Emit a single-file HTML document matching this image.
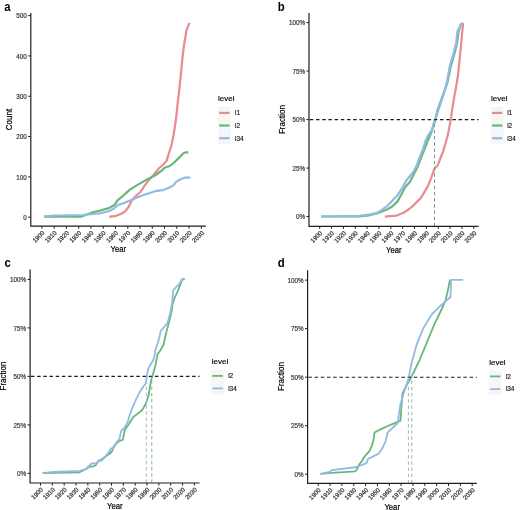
<!DOCTYPE html>
<html><head><meta charset="utf-8"><title>Figure</title>
<style>
html,body{margin:0;padding:0;background:#fff;}
body{width:520px;height:510px;overflow:hidden;}
svg{display:block;font-family:"Liberation Sans", sans-serif;filter:blur(0.3px);}
</style></head>
<body>
<svg width="520" height="510" viewBox="0 0 520 510">
<rect width="520" height="510" fill="#fff"/>
<text transform="translate(4.2 11.1) scale(0.9 1)" font-size="12.6" font-weight="bold" fill="#000">a</text>
<polyline points="109.2,216.9 116.2,215.8 121.9,213.5 125.4,211.2 128.8,206.5 132.3,199.6 136.9,195.0 140.4,192.0 143.8,186.9 147.3,181.8 153.1,175.4 158.8,168.5 163.5,164.3 166.5,161.1 168.8,153.5 171.5,145.4 173.8,133.8 175.9,120.0 177.6,104.1 179.5,87.6 181.2,71.2 182.8,54.7 184.2,44.0 185.2,38.2 186.3,31.0 187.3,28.0 189.6,22.9" fill="none" stroke="#EA8A92" stroke-width="2.20" stroke-linejoin="round" stroke-linecap="butt"/>
<polyline points="44.2,216.7 81.0,216.7 88.8,213.8 93.5,212.0 99.5,210.8 108.8,208.1 114.6,205.0 117.5,200.4 122.0,196.7 129.8,189.6 137.6,184.9 147.0,179.4 154.9,175.5 162.0,170.4 164.9,167.5 169.8,166.0 173.7,163.0 178.6,158.1 183.5,153.2 186.0,152.3 188.4,152.3" fill="none" stroke="#68B77A" stroke-width="2.20" stroke-linejoin="round" stroke-linecap="butt"/>
<polyline points="44.2,216.5 53.4,215.5 82.6,215.0 99.5,213.5 108.8,211.2 113.4,208.8 118.0,205.0 123.5,203.2 131.4,199.9 137.8,197.3 144.1,194.7 150.5,192.7 156.9,190.8 163.3,190.1 169.6,187.6 173.7,185.1 176.2,181.7 180.6,179.2 184.5,177.7 190.4,177.7" fill="none" stroke="#92BAE5" stroke-width="2.20" stroke-linejoin="round" stroke-linecap="butt"/>
<path d="M30.8 13.0 V226.2 H205.9" fill="none" stroke="#1e1e1e" stroke-width="1.2"/>
<line x1="28.2" y1="217.20" x2="30.8" y2="217.20" stroke="#1e1e1e" stroke-width="1"/>
<text x="26.8" y="219.87" font-size="6.3" fill="#3a3a3a" stroke="#3a3a3a" stroke-width="0.2" text-anchor="end">0</text>
<line x1="28.2" y1="176.88" x2="30.8" y2="176.88" stroke="#1e1e1e" stroke-width="1"/>
<text x="26.8" y="179.55" font-size="6.3" fill="#3a3a3a" stroke="#3a3a3a" stroke-width="0.2" text-anchor="end">100</text>
<line x1="28.2" y1="136.56" x2="30.8" y2="136.56" stroke="#1e1e1e" stroke-width="1"/>
<text x="26.8" y="139.23" font-size="6.3" fill="#3a3a3a" stroke="#3a3a3a" stroke-width="0.2" text-anchor="end">200</text>
<line x1="28.2" y1="96.24" x2="30.8" y2="96.24" stroke="#1e1e1e" stroke-width="1"/>
<text x="26.8" y="98.91" font-size="6.3" fill="#3a3a3a" stroke="#3a3a3a" stroke-width="0.2" text-anchor="end">300</text>
<line x1="28.2" y1="55.92" x2="30.8" y2="55.92" stroke="#1e1e1e" stroke-width="1"/>
<text x="26.8" y="58.59" font-size="6.3" fill="#3a3a3a" stroke="#3a3a3a" stroke-width="0.2" text-anchor="end">400</text>
<line x1="28.2" y1="15.60" x2="30.8" y2="15.60" stroke="#1e1e1e" stroke-width="1"/>
<text x="26.8" y="18.27" font-size="6.3" fill="#3a3a3a" stroke="#3a3a3a" stroke-width="0.2" text-anchor="end">500</text>
<line x1="41.90" y1="226.2" x2="41.90" y2="228.8" stroke="#1e1e1e" stroke-width="1"/>
<text transform="translate(41.50 229.95) rotate(-45)" font-size="6.2" fill="#3a3a3a" stroke="#3a3a3a" stroke-width="0.25" text-anchor="end" dominant-baseline="hanging">1900</text>
<line x1="54.16" y1="226.2" x2="54.16" y2="228.8" stroke="#1e1e1e" stroke-width="1"/>
<text transform="translate(53.77 229.95) rotate(-45)" font-size="6.2" fill="#3a3a3a" stroke="#3a3a3a" stroke-width="0.25" text-anchor="end" dominant-baseline="hanging">1910</text>
<line x1="66.43" y1="226.2" x2="66.43" y2="228.8" stroke="#1e1e1e" stroke-width="1"/>
<text transform="translate(66.03 229.95) rotate(-45)" font-size="6.2" fill="#3a3a3a" stroke="#3a3a3a" stroke-width="0.25" text-anchor="end" dominant-baseline="hanging">1920</text>
<line x1="78.69" y1="226.2" x2="78.69" y2="228.8" stroke="#1e1e1e" stroke-width="1"/>
<text transform="translate(78.29 229.95) rotate(-45)" font-size="6.2" fill="#3a3a3a" stroke="#3a3a3a" stroke-width="0.25" text-anchor="end" dominant-baseline="hanging">1930</text>
<line x1="90.96" y1="226.2" x2="90.96" y2="228.8" stroke="#1e1e1e" stroke-width="1"/>
<text transform="translate(90.56 229.95) rotate(-45)" font-size="6.2" fill="#3a3a3a" stroke="#3a3a3a" stroke-width="0.25" text-anchor="end" dominant-baseline="hanging">1940</text>
<line x1="103.22" y1="226.2" x2="103.22" y2="228.8" stroke="#1e1e1e" stroke-width="1"/>
<text transform="translate(102.82 229.95) rotate(-45)" font-size="6.2" fill="#3a3a3a" stroke="#3a3a3a" stroke-width="0.25" text-anchor="end" dominant-baseline="hanging">1950</text>
<line x1="115.49" y1="226.2" x2="115.49" y2="228.8" stroke="#1e1e1e" stroke-width="1"/>
<text transform="translate(115.09 229.95) rotate(-45)" font-size="6.2" fill="#3a3a3a" stroke="#3a3a3a" stroke-width="0.25" text-anchor="end" dominant-baseline="hanging">1960</text>
<line x1="127.75" y1="226.2" x2="127.75" y2="228.8" stroke="#1e1e1e" stroke-width="1"/>
<text transform="translate(127.35 229.95) rotate(-45)" font-size="6.2" fill="#3a3a3a" stroke="#3a3a3a" stroke-width="0.25" text-anchor="end" dominant-baseline="hanging">1970</text>
<line x1="140.02" y1="226.2" x2="140.02" y2="228.8" stroke="#1e1e1e" stroke-width="1"/>
<text transform="translate(139.62 229.95) rotate(-45)" font-size="6.2" fill="#3a3a3a" stroke="#3a3a3a" stroke-width="0.25" text-anchor="end" dominant-baseline="hanging">1980</text>
<line x1="152.28" y1="226.2" x2="152.28" y2="228.8" stroke="#1e1e1e" stroke-width="1"/>
<text transform="translate(151.88 229.95) rotate(-45)" font-size="6.2" fill="#3a3a3a" stroke="#3a3a3a" stroke-width="0.25" text-anchor="end" dominant-baseline="hanging">1990</text>
<line x1="164.55" y1="226.2" x2="164.55" y2="228.8" stroke="#1e1e1e" stroke-width="1"/>
<text transform="translate(164.15 229.95) rotate(-45)" font-size="6.2" fill="#3a3a3a" stroke="#3a3a3a" stroke-width="0.25" text-anchor="end" dominant-baseline="hanging">2000</text>
<line x1="176.81" y1="226.2" x2="176.81" y2="228.8" stroke="#1e1e1e" stroke-width="1"/>
<text transform="translate(176.41 229.95) rotate(-45)" font-size="6.2" fill="#3a3a3a" stroke="#3a3a3a" stroke-width="0.25" text-anchor="end" dominant-baseline="hanging">2010</text>
<line x1="189.08" y1="226.2" x2="189.08" y2="228.8" stroke="#1e1e1e" stroke-width="1"/>
<text transform="translate(188.68 229.95) rotate(-45)" font-size="6.2" fill="#3a3a3a" stroke="#3a3a3a" stroke-width="0.25" text-anchor="end" dominant-baseline="hanging">2020</text>
<line x1="201.34" y1="226.2" x2="201.34" y2="228.8" stroke="#1e1e1e" stroke-width="1"/>
<text transform="translate(200.94 229.95) rotate(-45)" font-size="6.2" fill="#3a3a3a" stroke="#3a3a3a" stroke-width="0.25" text-anchor="end" dominant-baseline="hanging">2030</text>
<text x="118.4" y="252.0" font-size="8.6" fill="#000" stroke="#000" stroke-width="0.2" text-anchor="middle" textLength="15.6" lengthAdjust="spacingAndGlyphs">Year</text>
<text transform="translate(12.3 119.5) rotate(-90)" font-size="8.6" fill="#000" stroke="#000" stroke-width="0.2" text-anchor="middle" textLength="21.3" lengthAdjust="spacingAndGlyphs">Count</text>
<text x="218.0" y="101.2" font-size="8.0" fill="#000" stroke="#000" stroke-width="0.15">level</text>
<rect x="218.0" y="107.0" width="12.8" height="37.0" fill="#f6f6f6"/>
<line x1="219.2" y1="112.9" x2="229.6" y2="112.9" stroke="#EA8A92" stroke-width="2.20"/>
<text x="235.0" y="115.2" font-size="6.4" fill="#111" stroke="#111" stroke-width="0.15">l1</text>
<line x1="219.2" y1="125.5" x2="229.6" y2="125.5" stroke="#68B77A" stroke-width="2.20"/>
<text x="235.0" y="127.8" font-size="6.4" fill="#111" stroke="#111" stroke-width="0.15">l2</text>
<line x1="219.2" y1="138.2" x2="229.6" y2="138.2" stroke="#92BAE5" stroke-width="2.20"/>
<text x="235.0" y="140.5" font-size="6.4" fill="#111" stroke="#111" stroke-width="0.15">l34</text>
<text transform="translate(277.8 11.1) scale(0.9 1)" font-size="12.6" font-weight="bold" fill="#000">b</text>
<polyline points="384.8,216.6 396.1,215.7 404.0,212.6 409.0,209.0 413.0,205.8 420.9,197.9 427.6,186.6 431.0,178.5 434.4,168.6 437.8,165.2 440.5,158.0 443.4,150.6 447.9,134.8 450.9,118.9 452.6,107.0 454.4,96.0 455.9,88.0 458.0,75.3 459.8,57.6 461.5,40.0 462.5,29.0 463.2,23.2" fill="none" stroke="#EA8A92" stroke-width="2.20" stroke-linejoin="round" stroke-linecap="butt"/>
<polyline points="321.2,216.5 359.6,216.5 368.8,215.4 376.5,213.4 382.7,211.2 387.6,209.2 392.5,206.3 397.5,201.4 401.4,194.5 404.3,188.6 407.3,184.7 410.0,181.8 413.7,174.6 418.1,165.7 421.5,156.5 424.2,150.0 427.9,140.2 431.2,132.7 433.3,126.2 435.5,118.7 437.6,110.1 439.8,103.6 443.0,95.0 447.2,83.3 450.8,66.1 454.0,55.3 457.2,42.4 458.5,31.6 460.8,24.5 463.2,23.2" fill="none" stroke="#68B77A" stroke-width="2.20" stroke-linejoin="round" stroke-linecap="butt"/>
<polyline points="321.2,216.5 359.6,215.8 368.8,214.6 376.5,213.1 382.7,209.4 387.6,205.5 392.5,200.6 397.5,195.3 400.6,190.4 404.3,184.5 405.9,181.0 409.8,176.3 413.7,171.4 416.7,165.5 419.1,158.6 422.5,150.5 425.8,140.2 429.0,133.8 432.2,129.5 433.8,123.0 435.5,118.7 437.6,112.2 439.8,105.8 441.9,99.3 443.5,95.0 446.6,83.3 449.8,66.1 453.0,55.3 456.3,42.4 457.4,31.6 460.6,25.1 463.2,23.2" fill="none" stroke="#92BAE5" stroke-width="2.20" stroke-linejoin="round" stroke-linecap="butt"/>
<line x1="309.0" y1="119.60" x2="478.6" y2="119.60" stroke="#1a1a1a" stroke-width="1.15" stroke-dasharray="3.5 2.7" stroke-dashoffset="-0.8"/>
<line x1="434.5" y1="226.35" x2="434.5" y2="119.60" stroke="#6a9c8a" stroke-width="1.0" stroke-dasharray="3.5 2.7"/>
<path d="M309.0 13.0 V226.3 H478.6" fill="none" stroke="#1e1e1e" stroke-width="1.2"/>
<line x1="306.4" y1="216.60" x2="309.0" y2="216.60" stroke="#1e1e1e" stroke-width="1"/>
<text x="305.0" y="219.27" font-size="6.3" fill="#3a3a3a" stroke="#3a3a3a" stroke-width="0.2" text-anchor="end">0%</text>
<line x1="306.4" y1="168.09" x2="309.0" y2="168.09" stroke="#1e1e1e" stroke-width="1"/>
<text x="305.0" y="170.76" font-size="6.3" fill="#3a3a3a" stroke="#3a3a3a" stroke-width="0.2" text-anchor="end">25%</text>
<line x1="306.4" y1="119.58" x2="309.0" y2="119.58" stroke="#1e1e1e" stroke-width="1"/>
<text x="305.0" y="122.24" font-size="6.3" fill="#3a3a3a" stroke="#3a3a3a" stroke-width="0.2" text-anchor="end">50%</text>
<line x1="306.4" y1="71.06" x2="309.0" y2="71.06" stroke="#1e1e1e" stroke-width="1"/>
<text x="305.0" y="73.73" font-size="6.3" fill="#3a3a3a" stroke="#3a3a3a" stroke-width="0.2" text-anchor="end">75%</text>
<line x1="306.4" y1="22.55" x2="309.0" y2="22.55" stroke="#1e1e1e" stroke-width="1"/>
<text x="305.0" y="25.22" font-size="6.3" fill="#3a3a3a" stroke="#3a3a3a" stroke-width="0.2" text-anchor="end">100%</text>
<line x1="319.70" y1="226.3" x2="319.70" y2="228.9" stroke="#1e1e1e" stroke-width="1"/>
<text transform="translate(319.30 230.05) rotate(-45)" font-size="6.2" fill="#3a3a3a" stroke="#3a3a3a" stroke-width="0.25" text-anchor="end" dominant-baseline="hanging">1900</text>
<line x1="331.56" y1="226.3" x2="331.56" y2="228.9" stroke="#1e1e1e" stroke-width="1"/>
<text transform="translate(331.16 230.05) rotate(-45)" font-size="6.2" fill="#3a3a3a" stroke="#3a3a3a" stroke-width="0.25" text-anchor="end" dominant-baseline="hanging">1910</text>
<line x1="343.41" y1="226.3" x2="343.41" y2="228.9" stroke="#1e1e1e" stroke-width="1"/>
<text transform="translate(343.01 230.05) rotate(-45)" font-size="6.2" fill="#3a3a3a" stroke="#3a3a3a" stroke-width="0.25" text-anchor="end" dominant-baseline="hanging">1920</text>
<line x1="355.26" y1="226.3" x2="355.26" y2="228.9" stroke="#1e1e1e" stroke-width="1"/>
<text transform="translate(354.87 230.05) rotate(-45)" font-size="6.2" fill="#3a3a3a" stroke="#3a3a3a" stroke-width="0.25" text-anchor="end" dominant-baseline="hanging">1930</text>
<line x1="367.12" y1="226.3" x2="367.12" y2="228.9" stroke="#1e1e1e" stroke-width="1"/>
<text transform="translate(366.72 230.05) rotate(-45)" font-size="6.2" fill="#3a3a3a" stroke="#3a3a3a" stroke-width="0.25" text-anchor="end" dominant-baseline="hanging">1940</text>
<line x1="378.98" y1="226.3" x2="378.98" y2="228.9" stroke="#1e1e1e" stroke-width="1"/>
<text transform="translate(378.58 230.05) rotate(-45)" font-size="6.2" fill="#3a3a3a" stroke="#3a3a3a" stroke-width="0.25" text-anchor="end" dominant-baseline="hanging">1950</text>
<line x1="390.83" y1="226.3" x2="390.83" y2="228.9" stroke="#1e1e1e" stroke-width="1"/>
<text transform="translate(390.43 230.05) rotate(-45)" font-size="6.2" fill="#3a3a3a" stroke="#3a3a3a" stroke-width="0.25" text-anchor="end" dominant-baseline="hanging">1960</text>
<line x1="402.69" y1="226.3" x2="402.69" y2="228.9" stroke="#1e1e1e" stroke-width="1"/>
<text transform="translate(402.29 230.05) rotate(-45)" font-size="6.2" fill="#3a3a3a" stroke="#3a3a3a" stroke-width="0.25" text-anchor="end" dominant-baseline="hanging">1970</text>
<line x1="414.54" y1="226.3" x2="414.54" y2="228.9" stroke="#1e1e1e" stroke-width="1"/>
<text transform="translate(414.14 230.05) rotate(-45)" font-size="6.2" fill="#3a3a3a" stroke="#3a3a3a" stroke-width="0.25" text-anchor="end" dominant-baseline="hanging">1980</text>
<line x1="426.39" y1="226.3" x2="426.39" y2="228.9" stroke="#1e1e1e" stroke-width="1"/>
<text transform="translate(426.00 230.05) rotate(-45)" font-size="6.2" fill="#3a3a3a" stroke="#3a3a3a" stroke-width="0.25" text-anchor="end" dominant-baseline="hanging">1990</text>
<line x1="438.25" y1="226.3" x2="438.25" y2="228.9" stroke="#1e1e1e" stroke-width="1"/>
<text transform="translate(437.85 230.05) rotate(-45)" font-size="6.2" fill="#3a3a3a" stroke="#3a3a3a" stroke-width="0.25" text-anchor="end" dominant-baseline="hanging">2000</text>
<line x1="450.11" y1="226.3" x2="450.11" y2="228.9" stroke="#1e1e1e" stroke-width="1"/>
<text transform="translate(449.71 230.05) rotate(-45)" font-size="6.2" fill="#3a3a3a" stroke="#3a3a3a" stroke-width="0.25" text-anchor="end" dominant-baseline="hanging">2010</text>
<line x1="461.96" y1="226.3" x2="461.96" y2="228.9" stroke="#1e1e1e" stroke-width="1"/>
<text transform="translate(461.56 230.05) rotate(-45)" font-size="6.2" fill="#3a3a3a" stroke="#3a3a3a" stroke-width="0.25" text-anchor="end" dominant-baseline="hanging">2020</text>
<line x1="473.81" y1="226.3" x2="473.81" y2="228.9" stroke="#1e1e1e" stroke-width="1"/>
<text transform="translate(473.42 230.05) rotate(-45)" font-size="6.2" fill="#3a3a3a" stroke="#3a3a3a" stroke-width="0.25" text-anchor="end" dominant-baseline="hanging">2030</text>
<text x="393.8" y="252.5" font-size="8.6" fill="#000" stroke="#000" stroke-width="0.2" text-anchor="middle" textLength="15.6" lengthAdjust="spacingAndGlyphs">Year</text>
<text transform="translate(285.1 119.6) rotate(-90)" font-size="8.6" fill="#000" stroke="#000" stroke-width="0.2" text-anchor="middle" textLength="28.9" lengthAdjust="spacingAndGlyphs">Fraction</text>
<text x="491.0" y="101.2" font-size="8.0" fill="#000" stroke="#000" stroke-width="0.15">level</text>
<rect x="490.8" y="107.0" width="12.8" height="37.0" fill="#f6f6f6"/>
<line x1="492.0" y1="112.9" x2="502.4" y2="112.9" stroke="#EA8A92" stroke-width="2.20"/>
<text x="507.2" y="115.2" font-size="6.4" fill="#111" stroke="#111" stroke-width="0.15">l1</text>
<line x1="492.0" y1="125.5" x2="502.4" y2="125.5" stroke="#68B77A" stroke-width="2.20"/>
<text x="507.2" y="127.8" font-size="6.4" fill="#111" stroke="#111" stroke-width="0.15">l2</text>
<line x1="492.0" y1="138.2" x2="502.4" y2="138.2" stroke="#92BAE5" stroke-width="2.20"/>
<text x="507.2" y="140.5" font-size="6.4" fill="#111" stroke="#111" stroke-width="0.15">l34</text>
<text transform="translate(4.5 266.6) scale(0.9 1)" font-size="12.6" font-weight="bold" fill="#000">c</text>
<polyline points="42.7,473.1 79.6,472.3 85.8,469.2 89.0,466.9 93.1,466.3 96.1,464.9 98.5,461.0 101.2,459.6 105.2,456.8 109.9,453.5 111.9,451.5 113.9,446.1 116.6,443.4 118.5,441.5 122.9,439.7 124.7,430.0 129.1,423.8 133.5,416.8 137.1,414.1 142.4,409.7 145.9,403.5 148.5,395.6 150.3,385.0 151.2,379.7 152.9,374.4 155.3,365.9 156.5,360.0 157.6,354.1 160.6,350.0 163.5,344.7 165.3,336.5 167.1,329.4 169.1,321.8 171.5,312.4 172.6,304.1 174.4,298.2 176.8,293.5 179.1,287.6 181.5,281.2 182.6,278.8 185.0,279.2" fill="none" stroke="#68B77A" stroke-width="1.80" stroke-linejoin="round" stroke-linecap="butt"/>
<polyline points="42.7,473.1 53.5,472.0 79.6,470.8 85.8,469.0 89.0,466.0 91.1,463.9 93.7,463.1 96.1,463.9 98.5,460.3 101.8,460.5 105.2,456.8 109.2,451.5 110.6,448.8 113.9,447.4 115.3,444.1 119.4,439.0 121.2,430.9 124.7,427.3 127.4,422.9 130.0,414.1 132.6,407.1 136.2,399.1 139.7,392.1 143.2,386.8 145.9,383.2 146.8,376.2 147.6,371.8 148.8,367.6 151.2,363.5 153.5,359.4 154.7,355.3 155.3,350.0 157.6,343.5 159.4,337.6 160.6,331.2 164.1,327.1 167.6,322.9 170.3,312.4 172.1,302.9 173.2,290.6 175.6,287.6 179.1,284.1 181.5,280.0 185.0,279.2" fill="none" stroke="#92BAE5" stroke-width="1.80" stroke-linejoin="round" stroke-linecap="butt"/>
<line x1="30.1" y1="376.40" x2="199.5" y2="376.40" stroke="#1a1a1a" stroke-width="1.15" stroke-dasharray="3.5 2.7" stroke-dashoffset="-0.8"/>
<line x1="146.3" y1="483.00" x2="146.3" y2="376.40" stroke="#a4b9d0" stroke-width="1.0" stroke-dasharray="3.5 2.7"/>
<line x1="151.8" y1="483.00" x2="151.8" y2="376.40" stroke="#8cb393" stroke-width="1.0" stroke-dasharray="3.5 2.7"/>
<path d="M30.1 269.5 V483.0 H199.5" fill="none" stroke="#1e1e1e" stroke-width="1.2"/>
<line x1="27.5" y1="473.40" x2="30.1" y2="473.40" stroke="#1e1e1e" stroke-width="1"/>
<text x="26.1" y="476.07" font-size="6.3" fill="#3a3a3a" stroke="#3a3a3a" stroke-width="0.2" text-anchor="end">0%</text>
<line x1="27.5" y1="424.90" x2="30.1" y2="424.90" stroke="#1e1e1e" stroke-width="1"/>
<text x="26.1" y="427.57" font-size="6.3" fill="#3a3a3a" stroke="#3a3a3a" stroke-width="0.2" text-anchor="end">25%</text>
<line x1="27.5" y1="376.40" x2="30.1" y2="376.40" stroke="#1e1e1e" stroke-width="1"/>
<text x="26.1" y="379.07" font-size="6.3" fill="#3a3a3a" stroke="#3a3a3a" stroke-width="0.2" text-anchor="end">50%</text>
<line x1="27.5" y1="327.90" x2="30.1" y2="327.90" stroke="#1e1e1e" stroke-width="1"/>
<text x="26.1" y="330.57" font-size="6.3" fill="#3a3a3a" stroke="#3a3a3a" stroke-width="0.2" text-anchor="end">75%</text>
<line x1="27.5" y1="279.40" x2="30.1" y2="279.40" stroke="#1e1e1e" stroke-width="1"/>
<text x="26.1" y="282.07" font-size="6.3" fill="#3a3a3a" stroke="#3a3a3a" stroke-width="0.2" text-anchor="end">100%</text>
<line x1="40.50" y1="483.0" x2="40.50" y2="485.6" stroke="#1e1e1e" stroke-width="1"/>
<text transform="translate(40.10 486.70) rotate(-45)" font-size="6.2" fill="#3a3a3a" stroke="#3a3a3a" stroke-width="0.25" text-anchor="end" dominant-baseline="hanging">1900</text>
<line x1="52.34" y1="483.0" x2="52.34" y2="485.6" stroke="#1e1e1e" stroke-width="1"/>
<text transform="translate(51.94 486.70) rotate(-45)" font-size="6.2" fill="#3a3a3a" stroke="#3a3a3a" stroke-width="0.25" text-anchor="end" dominant-baseline="hanging">1910</text>
<line x1="64.18" y1="483.0" x2="64.18" y2="485.6" stroke="#1e1e1e" stroke-width="1"/>
<text transform="translate(63.78 486.70) rotate(-45)" font-size="6.2" fill="#3a3a3a" stroke="#3a3a3a" stroke-width="0.25" text-anchor="end" dominant-baseline="hanging">1920</text>
<line x1="76.01" y1="483.0" x2="76.01" y2="485.6" stroke="#1e1e1e" stroke-width="1"/>
<text transform="translate(75.61 486.70) rotate(-45)" font-size="6.2" fill="#3a3a3a" stroke="#3a3a3a" stroke-width="0.25" text-anchor="end" dominant-baseline="hanging">1930</text>
<line x1="87.85" y1="483.0" x2="87.85" y2="485.6" stroke="#1e1e1e" stroke-width="1"/>
<text transform="translate(87.45 486.70) rotate(-45)" font-size="6.2" fill="#3a3a3a" stroke="#3a3a3a" stroke-width="0.25" text-anchor="end" dominant-baseline="hanging">1940</text>
<line x1="99.69" y1="483.0" x2="99.69" y2="485.6" stroke="#1e1e1e" stroke-width="1"/>
<text transform="translate(99.29 486.70) rotate(-45)" font-size="6.2" fill="#3a3a3a" stroke="#3a3a3a" stroke-width="0.25" text-anchor="end" dominant-baseline="hanging">1950</text>
<line x1="111.53" y1="483.0" x2="111.53" y2="485.6" stroke="#1e1e1e" stroke-width="1"/>
<text transform="translate(111.13 486.70) rotate(-45)" font-size="6.2" fill="#3a3a3a" stroke="#3a3a3a" stroke-width="0.25" text-anchor="end" dominant-baseline="hanging">1960</text>
<line x1="123.37" y1="483.0" x2="123.37" y2="485.6" stroke="#1e1e1e" stroke-width="1"/>
<text transform="translate(122.97 486.70) rotate(-45)" font-size="6.2" fill="#3a3a3a" stroke="#3a3a3a" stroke-width="0.25" text-anchor="end" dominant-baseline="hanging">1970</text>
<line x1="135.20" y1="483.0" x2="135.20" y2="485.6" stroke="#1e1e1e" stroke-width="1"/>
<text transform="translate(134.80 486.70) rotate(-45)" font-size="6.2" fill="#3a3a3a" stroke="#3a3a3a" stroke-width="0.25" text-anchor="end" dominant-baseline="hanging">1980</text>
<line x1="147.04" y1="483.0" x2="147.04" y2="485.6" stroke="#1e1e1e" stroke-width="1"/>
<text transform="translate(146.64 486.70) rotate(-45)" font-size="6.2" fill="#3a3a3a" stroke="#3a3a3a" stroke-width="0.25" text-anchor="end" dominant-baseline="hanging">1990</text>
<line x1="158.88" y1="483.0" x2="158.88" y2="485.6" stroke="#1e1e1e" stroke-width="1"/>
<text transform="translate(158.48 486.70) rotate(-45)" font-size="6.2" fill="#3a3a3a" stroke="#3a3a3a" stroke-width="0.25" text-anchor="end" dominant-baseline="hanging">2000</text>
<line x1="170.72" y1="483.0" x2="170.72" y2="485.6" stroke="#1e1e1e" stroke-width="1"/>
<text transform="translate(170.32 486.70) rotate(-45)" font-size="6.2" fill="#3a3a3a" stroke="#3a3a3a" stroke-width="0.25" text-anchor="end" dominant-baseline="hanging">2010</text>
<line x1="182.56" y1="483.0" x2="182.56" y2="485.6" stroke="#1e1e1e" stroke-width="1"/>
<text transform="translate(182.16 486.70) rotate(-45)" font-size="6.2" fill="#3a3a3a" stroke="#3a3a3a" stroke-width="0.25" text-anchor="end" dominant-baseline="hanging">2020</text>
<line x1="194.39" y1="483.0" x2="194.39" y2="485.6" stroke="#1e1e1e" stroke-width="1"/>
<text transform="translate(193.99 486.70) rotate(-45)" font-size="6.2" fill="#3a3a3a" stroke="#3a3a3a" stroke-width="0.25" text-anchor="end" dominant-baseline="hanging">2030</text>
<text x="114.8" y="509.0" font-size="8.6" fill="#000" stroke="#000" stroke-width="0.2" text-anchor="middle" textLength="15.6" lengthAdjust="spacingAndGlyphs">Year</text>
<text transform="translate(6.0 376.0) rotate(-90)" font-size="8.6" fill="#000" stroke="#000" stroke-width="0.2" text-anchor="middle" textLength="28.9" lengthAdjust="spacingAndGlyphs">Fraction</text>
<text x="211.8" y="364.0" font-size="8.0" fill="#000" stroke="#000" stroke-width="0.15">level</text>
<rect x="211.2" y="369.8" width="12.8" height="24.8" fill="#f6f6f6"/>
<line x1="212.4" y1="375.9" x2="222.8" y2="375.9" stroke="#68B77A" stroke-width="1.80"/>
<text x="228.2" y="378.2" font-size="6.4" fill="#111" stroke="#111" stroke-width="0.15">l2</text>
<line x1="212.4" y1="388.4" x2="222.8" y2="388.4" stroke="#92BAE5" stroke-width="1.80"/>
<text x="228.2" y="390.7" font-size="6.4" fill="#111" stroke="#111" stroke-width="0.15">l34</text>
<text transform="translate(277.7 266.8) scale(0.9 1)" font-size="12.6" font-weight="bold" fill="#000">d</text>
<polyline points="320.2,473.8 331.2,472.8 355.3,471.3 357.2,469.0 359.1,464.6 362.0,460.8 364.7,456.5 369.4,451.2 371.8,445.9 373.5,440.0 374.5,432.5 380.0,429.6 389.4,425.3 397.0,422.2 400.4,420.9 402.5,393.4 405.9,386.5 410.7,378.2 419.4,360.5 434.5,323.8 436.8,319.5 445.6,300.4 448.0,289.6 450.0,279.8" fill="none" stroke="#68B77A" stroke-width="1.80" stroke-linejoin="round" stroke-linecap="butt"/>
<polyline points="320.2,473.8 329.8,471.8 331.7,470.1 357.2,467.0 362.0,464.8 366.5,463.2 368.2,458.8 371.8,457.1 378.8,453.5 382.4,448.2 385.9,440.6 387.6,432.5 397.7,423.0 399.1,412.6 400.4,404.4 403.2,394.7 405.9,386.5 408.7,378.2 410.1,370.0 412.1,361.3 416.8,344.3 423.0,328.8 428.0,320.6 432.5,313.6 439.7,306.3 444.6,302.4 450.5,297.0 451.0,279.8 463.2,279.8" fill="none" stroke="#92BAE5" stroke-width="1.80" stroke-linejoin="round" stroke-linecap="butt"/>
<line x1="307.6" y1="377.20" x2="476.8" y2="377.20" stroke="#1a1a1a" stroke-width="1.15" stroke-dasharray="3.5 2.7" stroke-dashoffset="-0.8"/>
<line x1="408.4" y1="483.35" x2="408.4" y2="377.20" stroke="#a2b5cc" stroke-width="1.0" stroke-dasharray="3.5 2.7"/>
<line x1="411.8" y1="483.35" x2="411.8" y2="377.20" stroke="#8eb89b" stroke-width="1.0" stroke-dasharray="3.5 2.7"/>
<path d="M307.6 270.2 V483.4 H476.8" fill="none" stroke="#1e1e1e" stroke-width="1.2"/>
<line x1="305.0" y1="474.20" x2="307.6" y2="474.20" stroke="#1e1e1e" stroke-width="1"/>
<text x="303.6" y="476.87" font-size="6.3" fill="#3a3a3a" stroke="#3a3a3a" stroke-width="0.2" text-anchor="end">0%</text>
<line x1="305.0" y1="425.68" x2="307.6" y2="425.68" stroke="#1e1e1e" stroke-width="1"/>
<text x="303.6" y="428.34" font-size="6.3" fill="#3a3a3a" stroke="#3a3a3a" stroke-width="0.2" text-anchor="end">25%</text>
<line x1="305.0" y1="377.15" x2="307.6" y2="377.15" stroke="#1e1e1e" stroke-width="1"/>
<text x="303.6" y="379.82" font-size="6.3" fill="#3a3a3a" stroke="#3a3a3a" stroke-width="0.2" text-anchor="end">50%</text>
<line x1="305.0" y1="328.62" x2="307.6" y2="328.62" stroke="#1e1e1e" stroke-width="1"/>
<text x="303.6" y="331.29" font-size="6.3" fill="#3a3a3a" stroke="#3a3a3a" stroke-width="0.2" text-anchor="end">75%</text>
<line x1="305.0" y1="280.10" x2="307.6" y2="280.10" stroke="#1e1e1e" stroke-width="1"/>
<text x="303.6" y="282.77" font-size="6.3" fill="#3a3a3a" stroke="#3a3a3a" stroke-width="0.2" text-anchor="end">100%</text>
<line x1="318.20" y1="483.4" x2="318.20" y2="486.0" stroke="#1e1e1e" stroke-width="1"/>
<text transform="translate(317.80 487.05) rotate(-45)" font-size="6.2" fill="#3a3a3a" stroke="#3a3a3a" stroke-width="0.25" text-anchor="end" dominant-baseline="hanging">1900</text>
<line x1="330.05" y1="483.4" x2="330.05" y2="486.0" stroke="#1e1e1e" stroke-width="1"/>
<text transform="translate(329.65 487.05) rotate(-45)" font-size="6.2" fill="#3a3a3a" stroke="#3a3a3a" stroke-width="0.25" text-anchor="end" dominant-baseline="hanging">1910</text>
<line x1="341.89" y1="483.4" x2="341.89" y2="486.0" stroke="#1e1e1e" stroke-width="1"/>
<text transform="translate(341.49 487.05) rotate(-45)" font-size="6.2" fill="#3a3a3a" stroke="#3a3a3a" stroke-width="0.25" text-anchor="end" dominant-baseline="hanging">1920</text>
<line x1="353.74" y1="483.4" x2="353.74" y2="486.0" stroke="#1e1e1e" stroke-width="1"/>
<text transform="translate(353.34 487.05) rotate(-45)" font-size="6.2" fill="#3a3a3a" stroke="#3a3a3a" stroke-width="0.25" text-anchor="end" dominant-baseline="hanging">1930</text>
<line x1="365.58" y1="483.4" x2="365.58" y2="486.0" stroke="#1e1e1e" stroke-width="1"/>
<text transform="translate(365.18 487.05) rotate(-45)" font-size="6.2" fill="#3a3a3a" stroke="#3a3a3a" stroke-width="0.25" text-anchor="end" dominant-baseline="hanging">1940</text>
<line x1="377.43" y1="483.4" x2="377.43" y2="486.0" stroke="#1e1e1e" stroke-width="1"/>
<text transform="translate(377.03 487.05) rotate(-45)" font-size="6.2" fill="#3a3a3a" stroke="#3a3a3a" stroke-width="0.25" text-anchor="end" dominant-baseline="hanging">1950</text>
<line x1="389.28" y1="483.4" x2="389.28" y2="486.0" stroke="#1e1e1e" stroke-width="1"/>
<text transform="translate(388.88 487.05) rotate(-45)" font-size="6.2" fill="#3a3a3a" stroke="#3a3a3a" stroke-width="0.25" text-anchor="end" dominant-baseline="hanging">1960</text>
<line x1="401.12" y1="483.4" x2="401.12" y2="486.0" stroke="#1e1e1e" stroke-width="1"/>
<text transform="translate(400.72 487.05) rotate(-45)" font-size="6.2" fill="#3a3a3a" stroke="#3a3a3a" stroke-width="0.25" text-anchor="end" dominant-baseline="hanging">1970</text>
<line x1="412.97" y1="483.4" x2="412.97" y2="486.0" stroke="#1e1e1e" stroke-width="1"/>
<text transform="translate(412.57 487.05) rotate(-45)" font-size="6.2" fill="#3a3a3a" stroke="#3a3a3a" stroke-width="0.25" text-anchor="end" dominant-baseline="hanging">1980</text>
<line x1="424.81" y1="483.4" x2="424.81" y2="486.0" stroke="#1e1e1e" stroke-width="1"/>
<text transform="translate(424.41 487.05) rotate(-45)" font-size="6.2" fill="#3a3a3a" stroke="#3a3a3a" stroke-width="0.25" text-anchor="end" dominant-baseline="hanging">1990</text>
<line x1="436.66" y1="483.4" x2="436.66" y2="486.0" stroke="#1e1e1e" stroke-width="1"/>
<text transform="translate(436.26 487.05) rotate(-45)" font-size="6.2" fill="#3a3a3a" stroke="#3a3a3a" stroke-width="0.25" text-anchor="end" dominant-baseline="hanging">2000</text>
<line x1="448.51" y1="483.4" x2="448.51" y2="486.0" stroke="#1e1e1e" stroke-width="1"/>
<text transform="translate(448.11 487.05) rotate(-45)" font-size="6.2" fill="#3a3a3a" stroke="#3a3a3a" stroke-width="0.25" text-anchor="end" dominant-baseline="hanging">2010</text>
<line x1="460.35" y1="483.4" x2="460.35" y2="486.0" stroke="#1e1e1e" stroke-width="1"/>
<text transform="translate(459.95 487.05) rotate(-45)" font-size="6.2" fill="#3a3a3a" stroke="#3a3a3a" stroke-width="0.25" text-anchor="end" dominant-baseline="hanging">2020</text>
<line x1="472.20" y1="483.4" x2="472.20" y2="486.0" stroke="#1e1e1e" stroke-width="1"/>
<text transform="translate(471.80 487.05) rotate(-45)" font-size="6.2" fill="#3a3a3a" stroke="#3a3a3a" stroke-width="0.25" text-anchor="end" dominant-baseline="hanging">2030</text>
<text x="392.2" y="509.5" font-size="8.6" fill="#000" stroke="#000" stroke-width="0.2" text-anchor="middle" textLength="15.6" lengthAdjust="spacingAndGlyphs">Year</text>
<text transform="translate(284.0 376.5) rotate(-90)" font-size="8.6" fill="#000" stroke="#000" stroke-width="0.2" text-anchor="middle" textLength="28.9" lengthAdjust="spacingAndGlyphs">Fraction</text>
<text x="489.2" y="364.6" font-size="8.0" fill="#000" stroke="#000" stroke-width="0.15">level</text>
<rect x="488.8" y="370.3" width="12.8" height="24.8" fill="#f6f6f6"/>
<line x1="490.0" y1="376.4" x2="500.4" y2="376.4" stroke="#68B77A" stroke-width="1.80"/>
<text x="505.9" y="378.7" font-size="6.4" fill="#111" stroke="#111" stroke-width="0.15">l2</text>
<line x1="490.0" y1="389.1" x2="500.4" y2="389.1" stroke="#92BAE5" stroke-width="1.80"/>
<text x="505.9" y="391.4" font-size="6.4" fill="#111" stroke="#111" stroke-width="0.15">l34</text>
</svg>
</body></html>
